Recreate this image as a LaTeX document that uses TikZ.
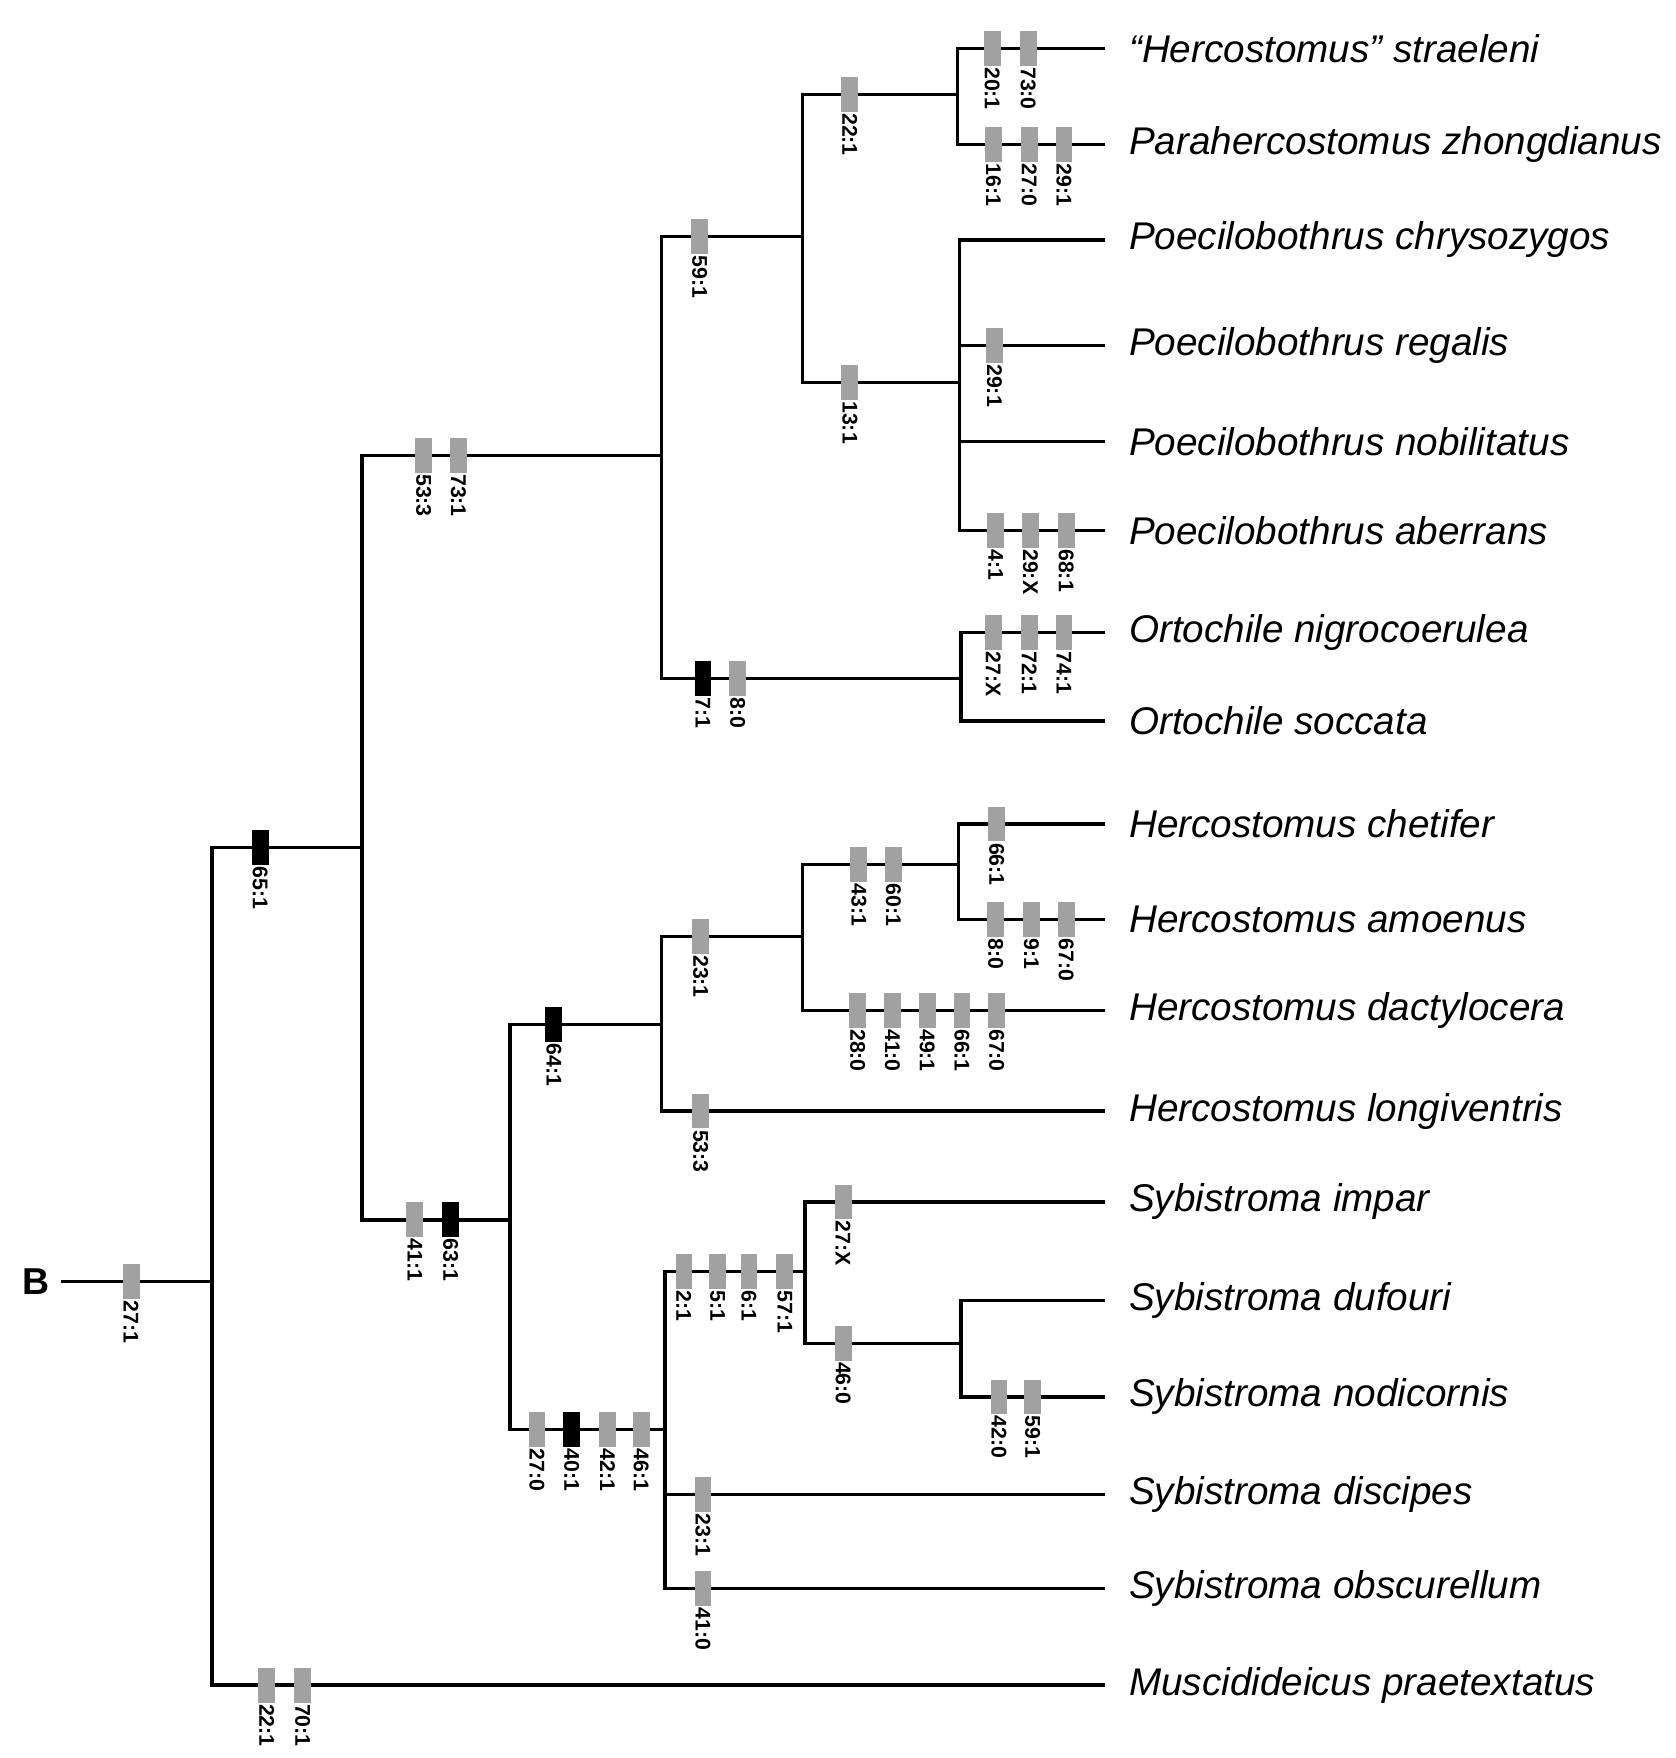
\documentclass[tikz,border=0pt]{standalone}
\usepackage{fontspec}
\setmainfont{Liberation Sans}
\usepackage{tikz}
\usetikzlibrary{positioning}

\begin{document}
\begin{tikzpicture}[
  x=0.01cm, y=-0.01cm,
  branch/.style={line width=0.85pt},
  taxon/.style={anchor=west,inner xsep=5.8pt,inner ysep=0pt,font=\fontsize{9.8}{11}\selectfont\itshape},
  rootlab/.style={inner xsep=2.8pt,font=\fontsize{9.5}{11}\selectfont\bfseries},
  chg/.style={fill=black!37,minimum width=0.15cm,minimum height=0.31cm,inner sep=0pt,label distance=1pt},
  chgblk/.style={chg,fill=black},
  chglab/.style={rotate=-90,anchor=west,inner sep=0pt,font=\fontsize{5.4}{6}\selectfont\bfseries}
]
  \useasboundingbox (0,0) rectangle (1494,1568);

  % internal nodes
  \node[rootlab] (B) at (32,1143) {B};
  \coordinate (root) at (189,1143);
  \coordinate (nA) at (323,756);
  \coordinate (nB) at (590,406);
  \coordinate (nC) at (455,1088);
  \coordinate (nD) at (716,211);
  \coordinate (nE) at (857,605);
  \coordinate (nF) at (854,84);
  \coordinate (nG) at (856,341);
  \coordinate (nH) at (590,914);
  \coordinate (nI) at (593,1275);
  \coordinate (nJ) at (716,835);
  \coordinate (nK) at (855,771);
  \coordinate (nL) at (718,1134);
  \coordinate (nM) at (857,1198);

  % terminal taxa
  \node[taxon] (hstr) at (986,43) {“Hercostomus” straeleni};
  \node[taxon] (pzho) at (986,129) {Parahercostomus zhongdianus};
  \node[taxon] (pchr) at (986,214) {Poecilobothrus chrysozygos};
  \node[taxon] (preg) at (986,308) {Poecilobothrus regalis};
  \node[taxon] (pnob) at (986,394) {Poecilobothrus nobilitatus};
  \node[taxon] (pabe) at (986,473) {Poecilobothrus aberrans};
  \node[taxon] (onig) at (986,564) {Ortochile nigrocoerulea};
  \node[taxon] (osoc) at (986,643) {Ortochile soccata};
  \node[taxon] (hche) at (986,735) {Hercostomus chetifer};
  \node[taxon] (hamo) at (986,820) {Hercostomus amoenus};
  \node[taxon] (hdac) at (986,901) {Hercostomus dactylocera};
  \node[taxon] (hlon) at (986,991) {Hercostomus longiventris};
  \node[taxon] (simp) at (986,1072) {Sybistroma impar};
  \node[taxon] (sduf) at (986,1160) {Sybistroma dufouri};
  \node[taxon] (snod) at (986,1246) {Sybistroma nodicornis};
  \node[taxon] (sdis) at (986,1333) {Sybistroma discipes};
  \node[taxon] (sobs) at (986,1417) {Sybistroma obscurellum};
  \node[taxon] (mpra) at (986,1503) {Muscidideicus praetextatus};

  % branches
  \draw[branch] (B) -- (root);
  \draw[branch] (root) |- (nA);
  \draw[branch] (root) |- (mpra);
  \draw[branch] (nA) |- (nB);
  \draw[branch] (nA) |- (nC);
  \draw[branch] (nB) |- (nD);
  \draw[branch] (nB) |- (nE);
  \draw[branch] (nD) |- (nF);
  \draw[branch] (nD) |- (nG);
  \draw[branch] (nF) |- (hstr);
  \draw[branch] (nF) |- (pzho);
  \draw[branch] (nG) |- (pchr);
  \draw[branch] (nG) |- (preg);
  \draw[branch] (nG) |- (pnob);
  \draw[branch] (nG) |- (pabe);
  \draw[branch] (nE) |- (onig);
  \draw[branch] (nE) |- (osoc);
  \draw[branch] (nC) |- (nH);
  \draw[branch] (nC) |- (nI);
  \draw[branch] (nH) |- (nJ);
  \draw[branch] (nH) |- (hlon);
  \draw[branch] (nJ) |- (nK);
  \draw[branch] (nJ) |- (hdac);
  \draw[branch] (nK) |- (hche);
  \draw[branch] (nK) |- (hamo);
  \draw[branch] (nI) |- (nL);
  \draw[branch] (nI) |- (sdis);
  \draw[branch] (nI) |- (sobs);
  \draw[branch] (nL) |- (simp);
  \draw[branch] (nL) |- (nM);
  \draw[branch] (nM) |- (sduf);
  \draw[branch] (nM) |- (snod);

  % character changes
  \node[chg,label={[chglab]south:{27:1}}] (c-root) at (117,1143) {};
  \node[chgblk,label={[chglab]south:{65:1}}] (c-nA) at (232,756) {};
  \node[chg,label={[chglab]south:{22:1}}] (c-mpra1) at (238,1503) {};
  \node[chg,label={[chglab]south:{70:1}}] (c-mpra2) at (270,1503) {};
  \node[chg,label={[chglab]south:{53:3}}] (c-nB1) at (378,406) {};
  \node[chg,label={[chglab]south:{73:1}}] (c-nB2) at (409,406) {};
  \node[chg,label={[chglab]south:{41:1}}] (c-nC1) at (370,1088) {};
  \node[chgblk,label={[chglab]south:{63:1}}] (c-nC2) at (402,1088) {};
  \node[chg,label={[chglab]south:{59:1}}] (c-nD) at (624,211) {};
  \node[chgblk,label={[chglab]south:{7:1}}] (c-nE1) at (627,605) {};
  \node[chg,label={[chglab]south:{8:0}}] (c-nE2) at (658,605) {};
  \node[chg,label={[chglab]south:{22:1}}] (c-nF) at (758,84) {};
  \node[chg,label={[chglab]south:{13:1}}] (c-nG) at (758,341) {};
  \node[chg,label={[chglab]south:{20:1}}] (c-hstr1) at (885,43) {};
  \node[chg,label={[chglab]south:{73:0}}] (c-hstr2) at (917,43) {};
  \node[chg,label={[chglab]south:{16:1}}] (c-pzho1) at (886,129) {};
  \node[chg,label={[chglab]south:{27:0}}] (c-pzho2) at (918,129) {};
  \node[chg,label={[chglab]south:{29:1}}] (c-pzho3) at (949,129) {};
  \node[chg,label={[chglab]south:{29:1}}] (c-preg) at (887,308) {};
  \node[chg,label={[chglab]south:{4:1}}] (c-pabe1) at (888,473) {};
  \node[chg,label={[chglab]south:{29:X}}] (c-pabe2) at (919,473) {};
  \node[chg,label={[chglab]south:{68:1}}] (c-pabe3) at (951,473) {};
  \node[chg,label={[chglab]south:{27:X}}] (c-onig1) at (886,564) {};
  \node[chg,label={[chglab]south:{72:1}}] (c-onig2) at (918,564) {};
  \node[chg,label={[chglab]south:{74:1}}] (c-onig3) at (949,564) {};
  \node[chgblk,label={[chglab]south:{64:1}}] (c-nH) at (494,914) {};
  \node[chg,label={[chglab]south:{27:0}}] (c-nI1) at (479,1275) {};
  \node[chgblk,label={[chglab]south:{40:1}}] (c-nI2) at (510,1275) {};
  \node[chg,label={[chglab]south:{42:1}}] (c-nI3) at (542,1275) {};
  \node[chg,label={[chglab]south:{46:1}}] (c-nI4) at (572,1275) {};
  \node[chg,label={[chglab]south:{23:1}}] (c-nJ) at (625,835) {};
  \node[chg,label={[chglab]south:{53:3}}] (c-hlon) at (625,991) {};
  \node[chg,label={[chglab]south:{43:1}}] (c-nK1) at (766,771) {};
  \node[chg,label={[chglab]south:{60:1}}] (c-nK2) at (797,771) {};
  \node[chg,label={[chglab]south:{28:0}}] (c-hdac1) at (765,901) {};
  \node[chg,label={[chglab]south:{41:0}}] (c-hdac2) at (796,901) {};
  \node[chg,label={[chglab]south:{49:1}}] (c-hdac3) at (827,901) {};
  \node[chg,label={[chglab]south:{66:1}}] (c-hdac4) at (858,901) {};
  \node[chg,label={[chglab]south:{67:0}}] (c-hdac5) at (889,901) {};
  \node[chg,label={[chglab]south:{66:1}}] (c-hche) at (889,735) {};
  \node[chg,label={[chglab]south:{8:0}}] (c-hamo1) at (888,820) {};
  \node[chg,label={[chglab]south:{9:1}}] (c-hamo2) at (920,820) {};
  \node[chg,label={[chglab]south:{67:0}}] (c-hamo3) at (951,820) {};
  \node[chg,label={[chglab]south:{2:1}}] (c-nL1) at (610,1134) {};
  \node[chg,label={[chglab]south:{5:1}}] (c-nL2) at (640,1134) {};
  \node[chg,label={[chglab]south:{6:1}}] (c-nL3) at (668,1134) {};
  \node[chg,label={[chglab]south:{57:1}}] (c-nL4) at (700,1134) {};
  \node[chg,label={[chglab]south:{23:1}}] (c-sdis) at (627,1333) {};
  \node[chg,label={[chglab]south:{41:0}}] (c-sobs) at (627,1417) {};
  \node[chg,label={[chglab]south:{27:X}}] (c-simp) at (752,1072) {};
  \node[chg,label={[chglab]south:{46:0}}] (c-nM) at (752,1198) {};
  \node[chg,label={[chglab]south:{42:0}}] (c-snod1) at (891,1246) {};
  \node[chg,label={[chglab]south:{59:1}}] (c-snod2) at (921,1246) {};
\end{tikzpicture}
\end{document}
